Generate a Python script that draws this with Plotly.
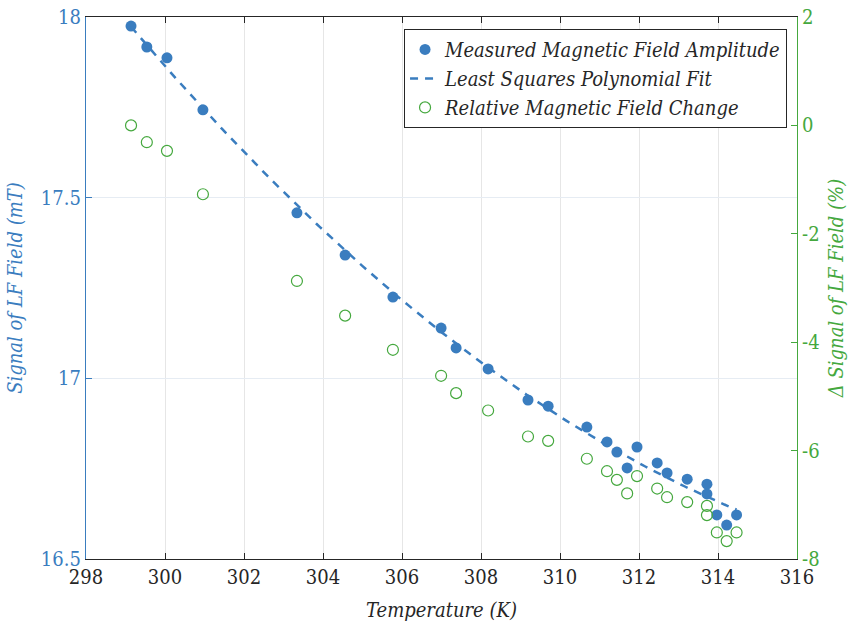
import numpy as np
import plotly.graph_objects as go

# Measured temperature (K) and LF field amplitude (mT)
temperature = [299.14, 299.54, 300.05, 300.96, 303.34, 304.56, 305.77, 306.99,
               307.37, 308.18, 309.19, 309.70, 310.68, 311.19, 311.44, 311.70,
               311.95, 312.46, 312.71, 313.22, 313.72, 313.72, 313.97, 314.22,
               314.47]
field_mT = [17.975, 17.917, 17.887, 17.743, 17.458, 17.341, 17.225, 17.139,
            17.084, 17.026, 16.940, 16.923, 16.865, 16.824, 16.796, 16.752,
            16.810, 16.766, 16.738, 16.721, 16.707, 16.680, 16.622, 16.594,
            16.622]
# Relative change of the field with respect to the first measurement (%)
change_pct = [0.00, -0.31, -0.47, -1.27, -2.87, -3.51, -4.14, -4.62,
              -4.94, -5.26, -5.74, -5.82, -6.15, -6.38, -6.54, -6.79,
              -6.47, -6.70, -6.86, -6.95, -7.02, -7.19, -7.51, -7.67,
              -7.51]

x_ticks = [298, 300, 302, 304, 306, 308, 310, 312, 314, 316]
y_ticks = [16.5, 17, 17.5, 18]
y_tick_text = ["16.5", "17", "17.5", "18"]
y2_ticks = [-8, -6, -4, -2, 0, 2]
y2_tick_text = ["-8", "-6", "-4", "-2", "0", "2"]

BLUE = "#3a7dbf"
GREEN = "#45a83e"
DARK = "#262626"
FONT = "'DejaVu Serif Condensed', 'DejaVu Serif', serif"
FS = 20

# Quadratic least-squares fit of the field amplitude
coef = np.polyfit(temperature, field_mT, 2)
t_fit = np.linspace(min(temperature), max(temperature), 200)
b_fit = np.polyval(coef, t_fit)

fig = go.Figure()
fig.add_trace(go.Scatter(
    x=temperature, y=field_mT, mode="markers",
    name="Measured Magnetic Field Amplitude",
    marker=dict(color=BLUE, size=11, line=dict(width=0)),
))
fig.add_trace(go.Scatter(
    x=t_fit, y=b_fit, mode="lines",
    name="Least Squares Polynomial Fit",
    line=dict(color=BLUE, width=2.5, dash="8px,7px"),
))
fig.add_trace(go.Scatter(
    x=temperature, y=change_pct, mode="markers", yaxis="y2",
    name="Relative Magnetic Field Change",
    marker=dict(symbol="circle-open", color=GREEN, size=11,
                line=dict(width=1.2, color=GREEN)),
))

fig.update_layout(
    width=862, height=629,
    margin=dict(l=86, r=65, t=17, b=70, autoexpand=False),
    paper_bgcolor="white", plot_bgcolor="white",
    font=dict(family=FONT, size=FS, color=DARK),
    showlegend=True,
    legend=dict(
        x=0.986, y=0.978, xanchor="right", yanchor="top",
        bgcolor="white", bordercolor=DARK, borderwidth=1,
        font=dict(family=FONT, size=FS, color=DARK, style="italic"),
        tracegroupgap=0, itemwidth=30,
    ),
    xaxis=dict(
        range=[298, 316], tickvals=x_ticks, automargin=False,
        showline=True, linecolor=DARK, linewidth=1.2, mirror="ticks",
        ticks="inside", ticklen=6, tickcolor=DARK,
        showgrid=True, gridcolor="#e6e6e6", zeroline=False,
        tickfont=dict(family=FONT, size=FS, color=DARK),
        title=dict(text="Temperature (K)", standoff=14,
                   font=dict(family=FONT, size=FS, color=DARK, style="italic")),
    ),
    yaxis=dict(
        range=[16.5, 18], tickvals=y_ticks, ticktext=y_tick_text, automargin=False,
        showline=True, linecolor=BLUE, linewidth=1.2,
        ticks="inside", ticklen=6, tickcolor=BLUE,
        showgrid=True, gridcolor="#e6ecf3", zeroline=False,
        tickfont=dict(family=FONT, size=FS, color=BLUE),
        title=dict(text="Signal of LF Field (mT)", standoff=12,
                   font=dict(family=FONT, size=FS, color=BLUE, style="italic")),
    ),
    yaxis2=dict(
        range=[-8, 2], tickvals=y2_ticks, ticktext=y2_tick_text, automargin=False,
        overlaying="y", side="right",
        showline=True, linecolor=GREEN, linewidth=1.2,
        ticks="inside", ticklen=6, tickcolor=GREEN,
        showgrid=False, zeroline=False,
        tickfont=dict(family=FONT, size=FS, color=GREEN),
        title=dict(text="Δ Signal of LF Field (%)", standoff=10,
                   font=dict(family=FONT, size=FS, color=GREEN, style="italic")),
    ),
)

fig.write_html("out.html")
